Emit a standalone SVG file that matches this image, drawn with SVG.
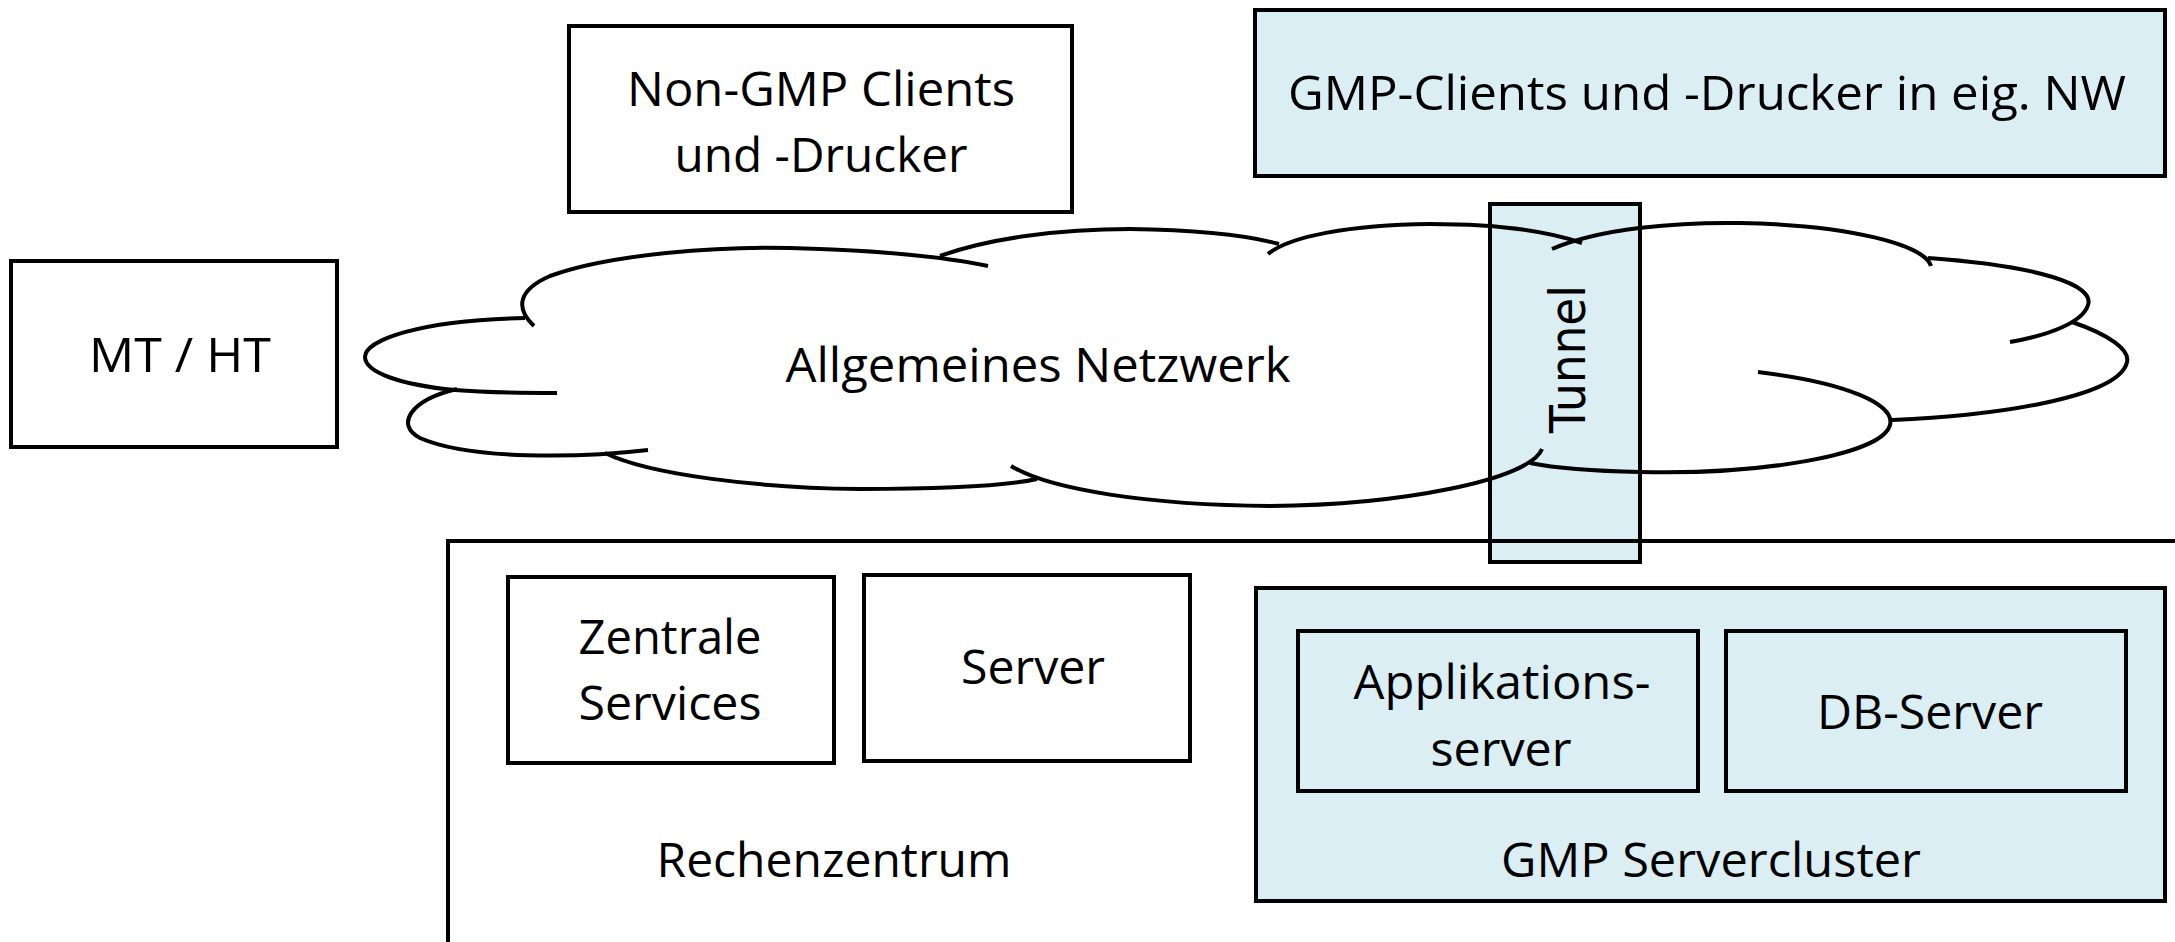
<svg xmlns="http://www.w3.org/2000/svg" width="2175" height="942" viewBox="0 0 2175 942">
<style>
.box{fill:#fff;stroke:#000;stroke-width:4}
.blue{fill:#DAEEF3;stroke:#000;stroke-width:4}
.open{fill:none;stroke:#000;stroke-width:4}
.cl{fill:none;stroke:#000;stroke-width:4;stroke-linecap:butt}
.t{font-family:"Open Sans","Liberation Sans",sans-serif;font-size:47px;fill:#000;text-anchor:middle}
.tv{font-family:"DejaVu Sans",sans-serif;font-size:50px;fill:#000;text-anchor:middle}
</style>
<rect width="2175" height="942" fill="#fff"/>
<g id="tunnel">
<rect class="blue" x="1490" y="204" width="150" height="358"/>
</g>
<g id="netzwerk">
<path class="cl" d="M534,326 C515,308 518,290 550,276 C610,254 720,246 790,248 C870,250 940,256 988,266"/>
<path class="cl" d="M940,256 C990,238 1060,229 1130,229 C1200,230 1250,236 1279,244"/>
<path class="cl" d="M1268,254 C1290,236 1350,225 1430,224 C1500,224 1550,232 1582,243"/>
<path class="cl" d="M1552,249 C1600,228 1680,222 1740,223 C1850,225 1925,245 1931,266"/>
<path class="cl" d="M1928,258 C2040,266 2095,285 2088,305 C2083,322 2050,335 2010,342"/>
<path class="cl" d="M2072,322 C2110,335 2130,350 2127,362 C2120,395 2010,415 1892,420"/>
<path class="cl" d="M1758,372 C1850,383 1895,405 1890,425 C1882,455 1760,475 1640,472 C1590,471 1550,467 1530,463"/>
<path class="cl" d="M1011,466 C1050,490 1150,505 1270,506 C1400,505 1530,480 1542,449"/>
<path class="cl" d="M605,453 C650,475 760,488 860,489 C950,489 1010,485 1037,479"/>
<path class="cl" d="M457,389 C410,400 395,425 420,438 C470,460 580,458 648,450"/>
<path class="cl" d="M525,318 C420,320 365,340 365,357 C365,372 400,385 455,390 C490,393 530,393 557,393"/>
<text class="t" x="1038" y="382" textLength="505" lengthAdjust="spacingAndGlyphs">Allgemeines Netzwerk</text>
</g>
<g id="tunnel-label">
<text class="tv" transform="translate(1585,359) rotate(-90)" x="0" y="0" textLength="148" lengthAdjust="spacingAndGlyphs">Tunnel</text>
</g>
<g id="mt-ht">
<rect class="box" x="11" y="261" width="326" height="186"/>
<text class="t" x="180" y="372" textLength="182" lengthAdjust="spacingAndGlyphs">MT / HT</text>
</g>
<g id="non-gmp">
<rect class="box" x="569" y="26" width="503" height="186"/>
<text class="t" x="821" y="106" textLength="388" lengthAdjust="spacingAndGlyphs">Non-GMP Clients</text>
<text class="t" x="821" y="172" textLength="293" lengthAdjust="spacingAndGlyphs">und -Drucker</text>
</g>
<g id="gmp-clients">
<rect class="blue" x="1255" y="10" width="910" height="166"/>
<text class="t" x="1707" y="110" textLength="838" lengthAdjust="spacingAndGlyphs">GMP-Clients und -Drucker in eig. NW</text>
</g>
<g id="rechenzentrum">
<rect class="open" x="448" y="541" width="1800" height="500"/>
<text class="t" x="834" y="877" textLength="355" lengthAdjust="spacingAndGlyphs">Rechenzentrum</text>
</g>
<g id="zentrale-services">
<rect class="box" x="508" y="577" width="326" height="186"/>
<text class="t" x="670" y="654" textLength="183" lengthAdjust="spacingAndGlyphs">Zentrale</text>
<text class="t" x="670" y="720" textLength="183" lengthAdjust="spacingAndGlyphs">Services</text>
</g>
<g id="server">
<rect class="box" x="864" y="575" width="326" height="186"/>
<text class="t" x="1033" y="684" textLength="144" lengthAdjust="spacingAndGlyphs">Server</text>
</g>
<g id="gmp-servercluster">
<rect class="blue" x="1256" y="588" width="909" height="313"/>
<text class="t" x="1711" y="877" textLength="420" lengthAdjust="spacingAndGlyphs">GMP Servercluster</text>
</g>
<g id="applikationsserver">
<rect class="blue" x="1298" y="631" width="400" height="160"/>
<text class="t" x="1502" y="699" textLength="297" lengthAdjust="spacingAndGlyphs">Applikations-</text>
<text class="t" x="1501" y="766" textLength="141" lengthAdjust="spacingAndGlyphs">server</text>
</g>
<g id="db-server">
<rect class="blue" x="1726" y="631" width="400" height="160"/>
<text class="t" x="1930" y="729" textLength="226" lengthAdjust="spacingAndGlyphs">DB-Server</text>
</g>
<g id="connectors"/>
</svg>
